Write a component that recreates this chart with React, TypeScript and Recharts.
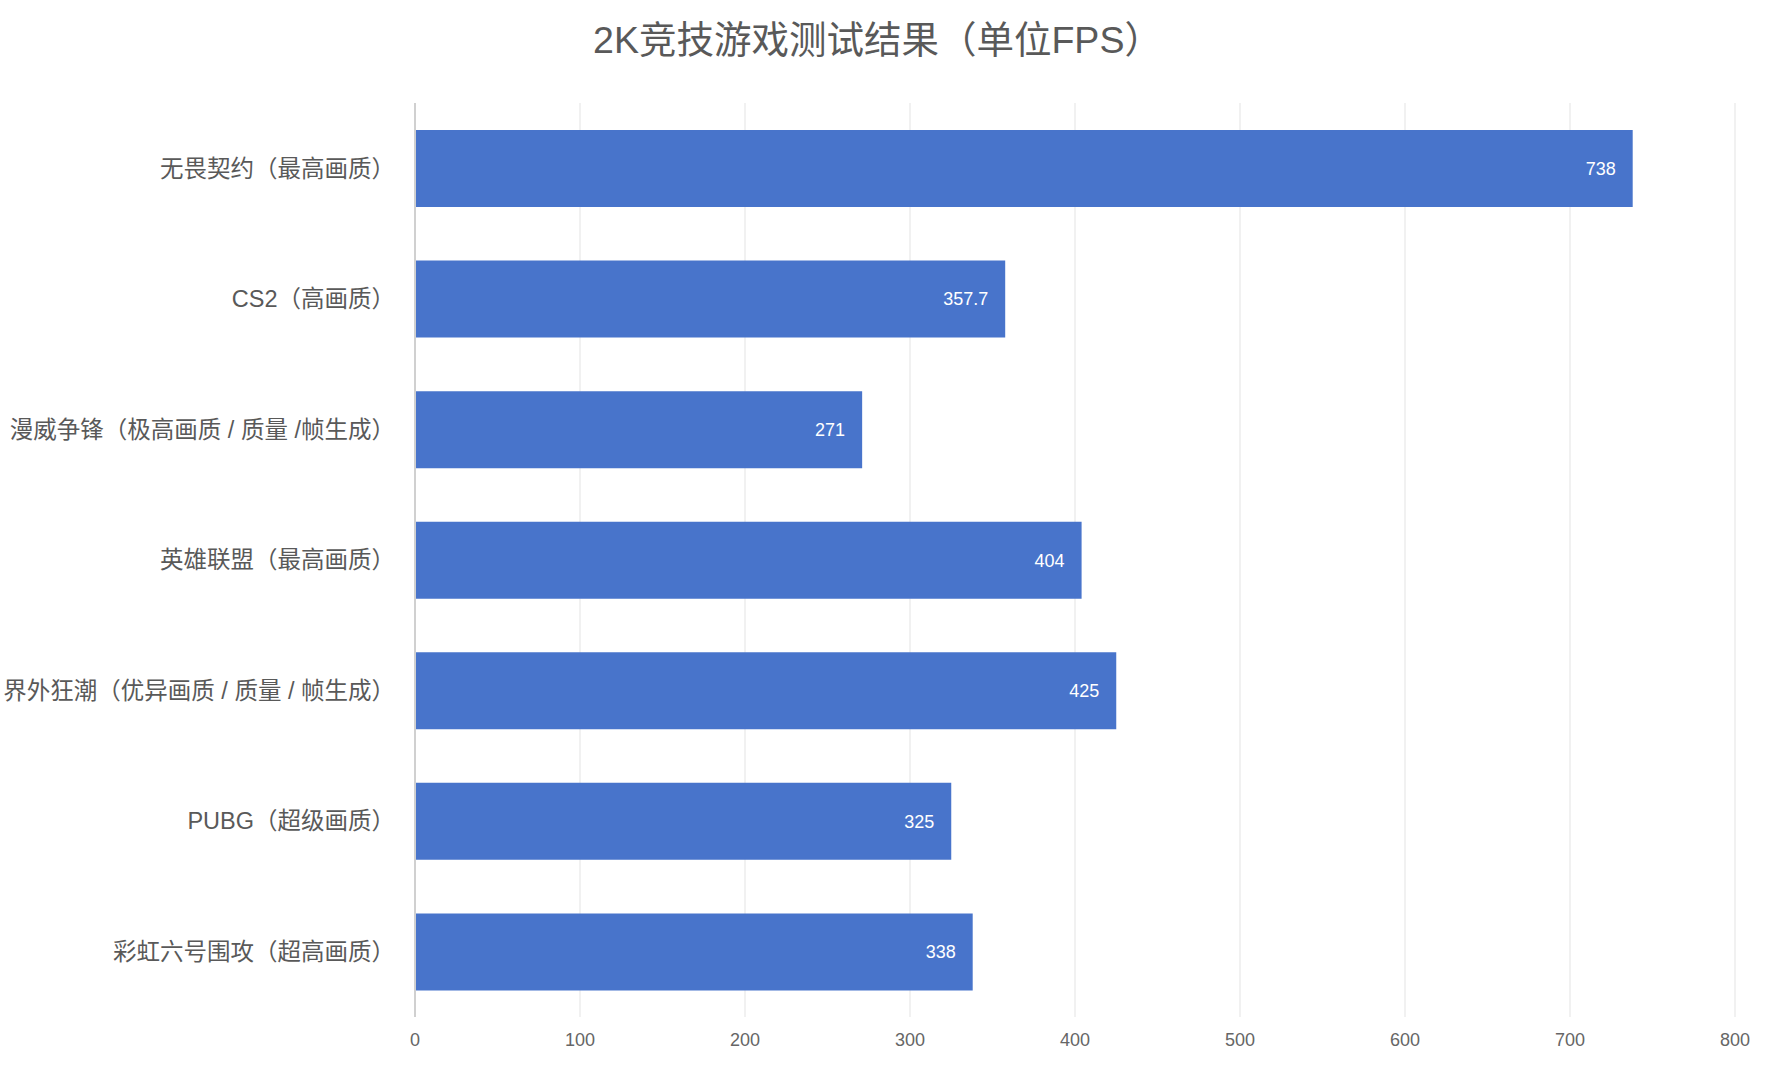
import React from 'react';
import { BarChart, Bar, XAxis, YAxis, CartesianGrid, LabelList } from 'recharts';

const title = '2K竞技游戏测试结果（单位FPS）';

const games = [
  '无畏契约（最高画质）',
  'CS2（高画质）',
  '漫威争锋（极高画质 / 质量 /帧生成）',
  '英雄联盟（最高画质）',
  '界外狂潮（优异画质 / 质量 / 帧生成）',
  'PUBG（超级画质）',
  '彩虹六号围攻（超高画质）',
];

const fps = [738, 357.7, 271, 404, 425, 325, 338];

const xTicks = [0, 100, 200, 300, 400, 500, 600, 700, 800];

const FONT = '"Liberation Sans", Arial, "Noto Sans CJK SC", sans-serif';

const chartData = games.map((name, i) => ({ name, fps: fps[i] }));

export default function App() {
  return (
    <div style={{ position: 'absolute', left: 0, top: 0, width: 1771, height: 1077, background: '#fff', fontFamily: FONT }}>
      <div
        style={{
          position: 'absolute',
          left: 0,
          top: 22,
          width: 1755,
          textAlign: 'center',
          fontSize: 37.5,
          lineHeight: '37px',
          color: '#595959',
          whiteSpace: 'nowrap',
        }}
      >
        {title}
      </div>
      <BarChart
        width={1771}
        height={1077}
        data={chartData}
        layout="vertical"
        margin={{ top: 103, right: 36, bottom: 0, left: 0 }}
      >
        <CartesianGrid horizontal={false} stroke="#ededed" strokeWidth={1.5} />
        <XAxis
          type="number"
          domain={[0, 800]}
          ticks={xTicks}
          interval={0}
          axisLine={false}
          tickLine={false}
          tickSize={0}
          tickMargin={16}
          height={60}
          tick={{ fontSize: 18, fill: '#666', fontFamily: FONT }}
        />
        <YAxis
          type="category"
          dataKey="name"
          width={415}
          interval={0}
          tickLine={false}
          tickSize={0}
          tickMargin={20}
          axisLine={{ stroke: '#d0d0d0', strokeWidth: 2 }}
          tick={{ fontSize: 23.5, fill: '#595959', fontFamily: FONT }}
        />
        <Bar dataKey="fps" fill="#4874CB" barSize={77} isAnimationActive={false}>
          <LabelList
            dataKey="fps"
            position="insideRight"
            offset={17}
            fill="#ffffff"
            fontSize={18}
            fontFamily={FONT}
          />
        </Bar>
      </BarChart>
    </div>
  );
}
